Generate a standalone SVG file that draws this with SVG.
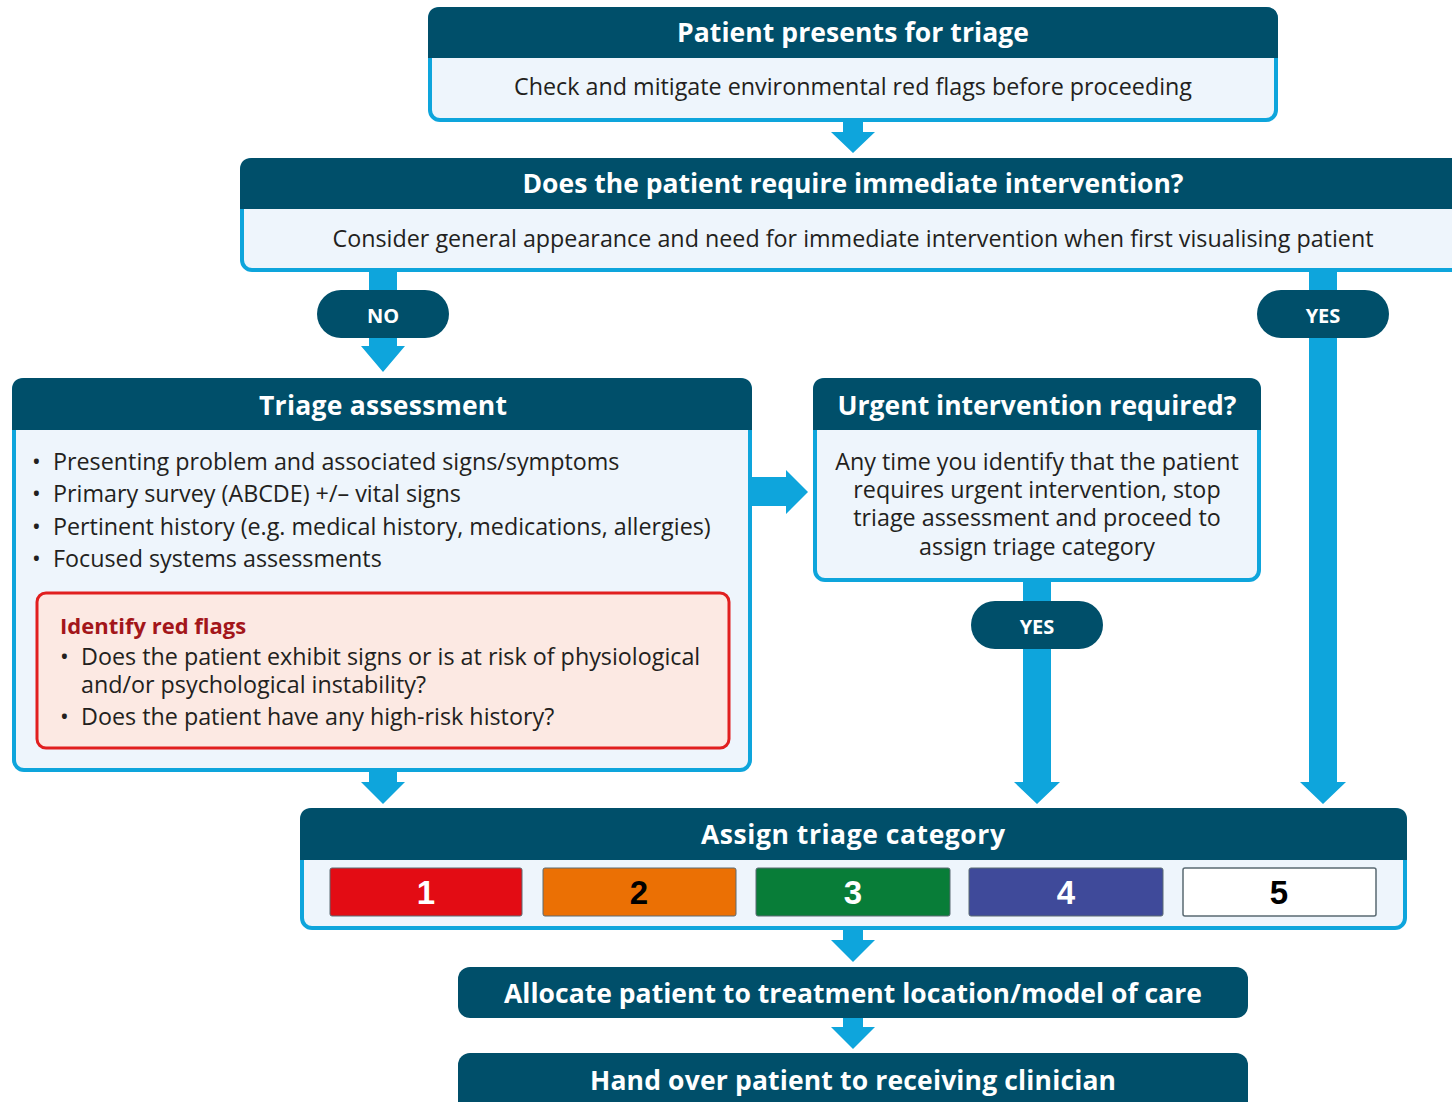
<svg xmlns="http://www.w3.org/2000/svg" width="1452" height="1102" viewBox="0 0 1452 1102">
<style>
.body{fill:#EEF5FC;stroke:#0EA5DC;stroke-width:4}
.hdr{fill:#004F6A}
.title{font-family:"Open Sans",sans-serif;font-weight:700;font-size:26.5px;fill:#fff;text-anchor:middle;dominant-baseline:central}
.txt{font-family:"Open Sans",sans-serif;font-size:23.3px;fill:#231F20}
.ctr{text-anchor:middle}
.pill{fill:#004F6A}
.pl{font-family:"Open Sans",sans-serif;font-weight:700;font-size:20px;fill:#fff;text-anchor:middle;dominant-baseline:central}
.con{fill:#0EA5DC}
.cat{font-family:"Liberation Sans",Arial,sans-serif;font-weight:700;font-size:33px;text-anchor:middle;dominant-baseline:central}
.red{font-family:"Open Sans",sans-serif;font-weight:700;font-size:22px;fill:#A3161A}
</style>
<g id="connectors">
<polygon class="con" points="843,120 863,120 863,132 875,132 853,153 831,132 843,132"/>
<rect class="con" x="369" y="270" width="28" height="22"/>
<polygon class="con" points="369,336 397,336 397,346 405,346 383,372 361,346 369,346"/>
<rect class="con" x="1309" y="270" width="28" height="22"/>
<polygon class="con" points="1309,336 1337,336 1337,782 1346,782 1323,804 1300,782 1309,782"/>
<polygon class="con" points="750,477 786,477 786,470 808,492 786,514 786,506 750,506"/>
<rect class="con" x="1023" y="580" width="28" height="23"/>
<polygon class="con" points="1023,647 1051,647 1051,782 1060,782 1037,804 1014,782 1023,782"/>
<polygon class="con" points="369,770 397,770 397,782 405,782 383,804 361,782 369,782"/>
<polygon class="con" points="843,928 863,928 863,940 875,940 853,962 831,940 843,940"/>
<polygon class="con" points="843,1016 863,1016 863,1027 875,1027 853,1049 831,1027 843,1027"/>
</g>
<g id="n-presents">
<rect class="body" x="430" y="9" width="846" height="111" rx="10"/>
<path class="hdr" d="M428,58 V19 Q428,7 440,7 H1266 Q1278,7 1278,19 V58 Z"/>
<text class="title" x="853" y="32" textLength="352">Patient presents for triage</text>
<text class="txt ctr" x="853" y="95">Check and mitigate environmental red flags before proceeding</text>
</g>
<g id="n-immediate">
<rect class="body" x="242" y="160" width="1230" height="110" rx="10"/>
<path class="hdr" d="M240,209 V170 Q240,158 252,158 H1460 V209 Z"/>
<text class="title" x="853" y="183" textLength="661">Does the patient require immediate intervention?</text>
<text class="txt ctr" x="853" y="247">Consider general appearance and need for immediate intervention when first visualising patient</text>
</g>
<g id="n-no">
<rect class="pill" x="317" y="290" width="132" height="48" rx="24"/>
<text class="pl" x="383" y="315">NO</text>
</g>
<g id="n-yes1">
<rect class="pill" x="1257" y="290" width="132" height="48" rx="24"/>
<text class="pl" x="1323" y="315">YES</text>
</g>
<g id="n-triage">
<rect class="body" x="14" y="380" width="736" height="390" rx="10"/>
<path class="hdr" d="M12,430 V390 Q12,378 24,378 H740 Q752,378 752,390 V430 Z"/>
<text class="title" x="383" y="405" textLength="248">Triage assessment</text>
<text class="txt" x="32" y="470">•</text><text class="txt" x="53" y="470">Presenting problem and associated signs/symptoms</text>
<text class="txt" x="32" y="502">•</text><text class="txt" x="53" y="502">Primary survey (ABCDE) +/– vital signs</text>
<text class="txt" x="32" y="535">•</text><text class="txt" x="53" y="535">Pertinent history (e.g. medical history, medications, allergies)</text>
<text class="txt" x="32" y="567">•</text><text class="txt" x="53" y="567">Focused systems assessments</text>
<g id="n-redflags">
<rect x="37" y="593" width="692" height="155" rx="9" fill="#FCE9E3" stroke="#E11F1F" stroke-width="3"/>
<text class="red" x="60" y="634">Identify red flags</text>
<text class="txt" x="60" y="665">•</text><text class="txt" x="81" y="665">Does the patient exhibit signs or is at risk of physiological</text>
<text class="txt" x="81" y="693">and/or psychological instability?</text>
<text class="txt" x="60" y="725">•</text><text class="txt" x="81" y="725">Does the patient have any high-risk history?</text>
</g>
</g>
<g id="n-urgent">
<rect class="body" x="815" y="380" width="444" height="200" rx="10"/>
<path class="hdr" d="M813,430 V390 Q813,378 825,378 H1249 Q1261,378 1261,390 V430 Z"/>
<text class="title" x="1037" y="405" textLength="399">Urgent intervention required?</text>
<text class="txt ctr" x="1037" y="470">Any time you identify that the patient</text>
<text class="txt ctr" x="1037" y="498">requires urgent intervention, stop</text>
<text class="txt ctr" x="1037" y="526">triage assessment and proceed to</text>
<text class="txt ctr" x="1037" y="555">assign triage category</text>
</g>
<g id="n-yes2">
<rect class="pill" x="971" y="601" width="132" height="48" rx="24"/>
<text class="pl" x="1037" y="626">YES</text>
</g>
<g id="n-assign">
<rect class="body" x="302" y="810" width="1103" height="118" rx="10"/>
<path class="hdr" d="M300,860 V820 Q300,808 312,808 H1395 Q1407,808 1407,820 V860 Z"/>
<text class="title" x="853" y="834" textLength="304">Assign triage category</text>
<rect x="330" y="868" width="192" height="48" rx="2" fill="#E30C14" stroke="#5a6a72" stroke-width="1"/>
<text class="cat" x="426" y="892" fill="#fff">1</text>
<rect x="543" y="868" width="193" height="48" rx="2" fill="#EB7004" stroke="#5a6a72" stroke-width="1"/>
<text class="cat" x="639" y="892" fill="#000">2</text>
<rect x="756" y="868" width="194" height="48" rx="2" fill="#087D38" stroke="#5a6a72" stroke-width="1"/>
<text class="cat" x="853" y="892" fill="#fff">3</text>
<rect x="969" y="868" width="194" height="48" rx="2" fill="#3F4A9A" stroke="#5a6a72" stroke-width="1"/>
<text class="cat" x="1066" y="892" fill="#fff">4</text>
<rect x="1183" y="868" width="193" height="48" rx="2" fill="#fff" stroke="#5a6a72" stroke-width="1.5"/>
<text class="cat" x="1279" y="892" fill="#000">5</text>
</g>
<g id="n-allocate">
<rect class="hdr" x="458" y="967" width="790" height="51" rx="12"/>
<text class="title" x="853" y="993" textLength="698">Allocate patient to treatment location/model of care</text>
</g>
<g id="n-handover">
<rect class="hdr" x="458" y="1053" width="790" height="62" rx="12"/>
<text class="title" x="853" y="1080" textLength="526">Hand over patient to receiving clinician</text>
</g>
</svg>
